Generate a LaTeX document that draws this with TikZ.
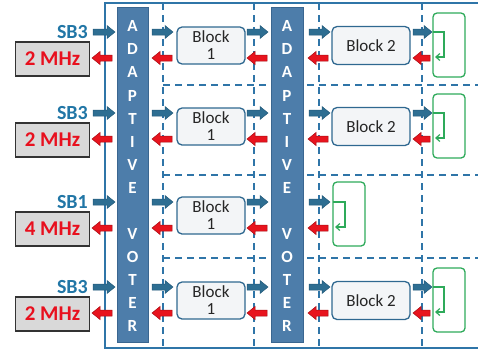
\documentclass[tikz,border=0pt]{standalone}
\usepackage{fontspec}
\setmainfont{Carlito}
\usetikzlibrary{arrows.meta}
\definecolor{lineblue}{HTML}{2F75A8}
\definecolor{votefill}{HTML}{4D7DAA}
\definecolor{votedraw}{HTML}{3A6690}
\definecolor{arrblue}{HTML}{2E6E92}
\definecolor{arrbluedk}{HTML}{235A7A}
\definecolor{arrred}{HTML}{E8141E}
\definecolor{arrreddk}{HTML}{A80C12}
\definecolor{sbblue}{HTML}{2176A6}
\definecolor{mhzred}{HTML}{E8101E}
\definecolor{boxgray}{HTML}{D9D9D9}
\definecolor{blockfill}{HTML}{F3F5F7}
\definecolor{blockdraw}{HTML}{2F6890}
\definecolor{gr}{HTML}{2EAA5A}
\newcommand\bluearr[3]{%
  \filldraw[barr] (#1,#3-3) -- (#2-8,#3-3) -- (#2-8,#3-6.5) -- (#2,#3) -- (#2-8,#3+6.5) -- (#2-8,#3+3) -- (#1,#3+3) -- cycle;}
\newcommand\redarr[3]{%
  \filldraw[rarr] (#2,#3-3) -- (#1+8,#3-3) -- (#1+8,#3-6.5) -- (#1,#3) -- (#1+8,#3+6.5) -- (#1+8,#3+3) -- (#2,#3+3) -- cycle;}
\begin{document}
\begin{tikzpicture}[x=1pt,y=-1pt,
  dline/.style={lineblue,line width=1.4pt,dash pattern=on 7pt off 5pt},
  frame/.style={lineblue,line width=1.4pt},
  voter/.style={fill=votefill,draw=votedraw,line width=0.8pt},
  vtext/.style={text=white,font=\bfseries\fontsize{17}{17}\selectfont,inner sep=0pt},
  barr/.style={fill=arrblue,draw=arrbluedk,line width=0.5pt},
  rarr/.style={fill=arrred,draw=arrreddk,line width=0.5pt},
  sbtext/.style={text=sbblue,font=\bfseries\fontsize{20}{20}\selectfont,inner sep=0pt},
  mhzbox/.style={fill=boxgray,draw=black!80,line width=1.8pt,minimum width=74pt,minimum height=34pt,inner sep=0pt,text=mhzred,font=\bfseries\fontsize{21}{21}\selectfont},
  blockbox/.style={fill=blockfill,draw=blockdraw,line width=1.3pt,rounded corners=5pt,inner sep=0pt,align=center,text=black!85,font=\fontsize{17}{18}\selectfont},
  gbox/.style={draw=gr,line width=1.3pt,rounded corners=4pt},
  gline/.style={draw=gr,line width=1.2pt,-{Straight Barb[length=4pt,width=7pt]}}]
\useasboundingbox (0,0) rectangle (478,354);
% dashed grid
\foreach \x in {163,254,319,422} \draw[dline] (\x,3) -- (\x,348);
\foreach \y in {85,175,258} \draw[dline] (163,\y) -- (480,\y);
% outer frame
\draw[frame] (490,3) -- (105,3) -- (105,348) -- (490,348);
% voters
\node[voter,minimum width=31pt,minimum height=335pt,inner sep=0pt] (voter1) at (132.5,174.5) {};
\node[voter,minimum width=32pt,minimum height=335pt,inner sep=0pt] (voter2) at (287,174.5) {};
\foreach \L [count=\i from 0] in {A,D,A,P,T,I,V,E,{},V,O,T,E,R}{
  \node[vtext] (va\i) at (132.5,26.3+23.08*\i) {\L};
  \node[vtext] (vb\i) at (287,26.3+23.08*\i) {\L};
}
% rows
\foreach \t/\sb/\mhz/\n in {27/SB3/2/1,108/SB3/2/2,197/SB1/4/3,282/SB3/2/4}{
  \pgfmathsetmacro\yb{\t+5}
  \pgfmathsetmacro\yr{\t+31}
  \node[sbtext,anchor=east] (sb\n) at (88,\yb) {\sb};
  \node[mhzbox] (mhz\n) at (52.5,\yr+1) {\mhz\ MHz};
  \node[blockbox,minimum width=68pt,minimum height=37pt] (blk\n) at (211,\t+18.5) {Block\\[-1pt]1};
  \bluearr{93}{115}{\yb}
  \bluearr{152}{173}{\yb}
  \bluearr{247}{268}{\yb}
  \bluearr{309}{330}{\yb}
  \redarr{92}{112}{\yr}
  \redarr{152}{172}{\yr}
  \redarr{247}{267}{\yr}
  \redarr{308}{328}{\yr}
  \ifnum\n=3
    \draw[gbox] (333,\t-15) rectangle (365,\t+49);
    \coordinate (gs\n) at (333,\yb);
    \draw[gline] (gs\n) -- (345,\yb) -- (345,\yr-1) -- (335,\yr-1);
  \else
    \node[blockbox,minimum width=78pt,minimum height=38pt] (blkb\n) at (371,\t+18.5) {Block 2};
    \bluearr{413}{432}{\yb}
    \redarr{413}{430}{\yr}
    \draw[gbox] (433,\t-14) rectangle (465,\t+50);
    \coordinate (gs\n) at (433,\yb);
    \draw[gline] (gs\n) -- (444,\yb) -- (444,\yr-1) -- (435,\yr-1);
  \fi
}
\end{tikzpicture}
\end{document}
